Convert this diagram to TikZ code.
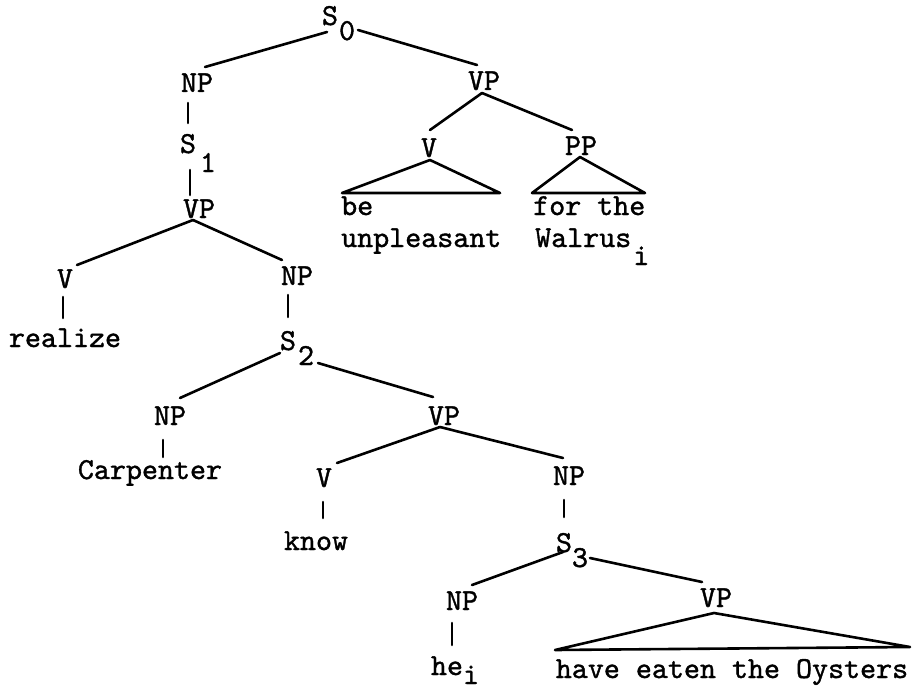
\documentclass[tikz,border=0pt]{standalone}
\usepackage{fontspec}
\newfontfamily\twfont[FakeBold=1.2]{lmmono10-regular.otf}
\newcommand{\lowr}[2]{\rlap{\smash{\raisebox{-#1}{#2}}}}
\begin{document}
\begin{tikzpicture}[x=1pt,y=-1pt,
  lbl/.style={inner sep=0pt, anchor=base, font=\fontsize{30.5pt}{36pt}\selectfont\twfont},
  lblw/.style={lbl, anchor=base west},
  lnk/.style={line width=2.6pt, line cap=round, line join=round}]
\useasboundingbox (0,0) rectangle (912,690);
% nodes
\node[lbl] (s0) at (330,25) {S\lowr{15pt}{\kern1pt 0}};
\node[lbl] (np1) at (197,92) {NP};
\node[lbl] (s1) at (188,153) {S\lowr{19pt}{\kern4pt 1}};
\node[lbl] (vp1) at (199,218) {VP};
\node[lbl] (v1) at (65,288) {V};
\node[lbl] (realize) at (65,347) {realize};
\node[lbl] (np2) at (297,285) {NP};
\node[lbl] (s2) at (288,350) {S\lowr{15pt}{\kern2pt 2}};
\node[lbl] (np3) at (170,425) {NP};
\node[lbl] (carp) at (150,479) {Carpenter};
\node[lbl] (vp2) at (444,425) {VP};
\node[lbl] (v2) at (324,487) {V};
\node[lbl] (know) at (316,550) {know};
\node[lbl] (np4) at (569,485) {NP};
\node[lbl] (s3) at (564,552) {S\lowr{15pt}{\kern0pt 3}};
\node[lbl] (np5) at (462,610) {NP};
\node[lbl] (he) at (447,675) {he\lowr{9pt}{i}};
\node[lbl] (vp3) at (716,607) {VP};
\node[lbl] (oys) at (732,678) {have eaten the Oysters};
\node[lbl] (vp0) at (484,90) {VP};
\node[lbl] (v0) at (429,157) {V};
\node[lbl] (pp) at (581,155) {PP};
\node[lblw] (be) at (341,215) {be};
\node[lblw] (unpl) at (341,247) {unpleasant};
\node[lblw] (forthe) at (533,215) {for the};
\node[lblw] (walrus) at (535,247) {Walrus\lowr{18pt}{\kern2pt i}};
% connectors
\draw[lnk] ([shift={(-3,7)}]s0.base) -- ([shift={(8,-25)}]np1.base);
\draw[lnk] ([shift={(28,5)}]s0.base) -- ([shift={(-7,-25)}]vp0.base);
\draw[lnk] ([shift={(-2,3)}]vp0.base) -- ([shift={(1,-27)}]v0.base);
\draw[lnk] ([shift={(-2,3)}]vp0.base) -- ([shift={(-9,-25)}]pp.base);
\draw[lnk] ([shift={(1,3)}]v0.base) -- ([shift={(-87,36)}]v0.base) -- ([shift={(71,36)}]v0.base) -- cycle;
\draw[lnk] ([shift={(-1,2)}]pp.base) -- ([shift={(-49,38)}]pp.base) -- ([shift={(64,38)}]pp.base) -- cycle;
\draw[lnk] ([shift={(-9,11)}]np1.base) -- ([shift={(0,-30)}]s1.base);
\draw[lnk] ([shift={(2,17)}]s1.base) -- ([shift={(-9,-23)}]vp1.base);
\draw[lnk] ([shift={(-6,2)}]vp1.base) -- ([shift={(12,-23)}]v1.base);
\draw[lnk] ([shift={(-6,2)}]vp1.base) -- ([shift={(-15,-25)}]np2.base);
\draw[lnk] ([shift={(-2,9)}]v1.base) -- ([shift={(-2,-29)}]realize.base);
\draw[lnk] ([shift={(-9,10)}]np2.base) -- ([shift={(0,-33)}]s2.base);
\draw[lnk] ([shift={(-8,3)}]s2.base) -- ([shift={(10,-27)}]np3.base);
\draw[lnk] ([shift={(30,13)}]s2.base) -- ([shift={(-11,-28)}]vp2.base);
\draw[lnk] ([shift={(-7,15)}]np3.base) -- ([shift={(13,-22)}]carp.base);
\draw[lnk] ([shift={(-4,2)}]vp2.base) -- ([shift={(13,-24)}]v2.base);
\draw[lnk] ([shift={(-4,2)}]vp2.base) -- ([shift={(-6,-27)}]np4.base);
\draw[lnk] ([shift={(-1,15)}]v2.base) -- ([shift={(7,-32)}]know.base);
\draw[lnk] ([shift={(-5,15)}]np4.base) -- ([shift={(0,-35)}]s3.base);
\draw[lnk] ([shift={(-1,0)}]s3.base) -- ([shift={(10,-25)}]np5.base);
\draw[lnk] ([shift={(26,6)}]s3.base) -- ([shift={(-14,-25)}]vp3.base);
\draw[lnk] ([shift={(-10,13)}]np5.base) -- ([shift={(5,-30)}]he.base);
\draw[lnk] ([shift={(-2,6)}]vp3.base) -- ([shift={(-161,43)}]vp3.base) -- ([shift={(194,40)}]vp3.base) -- cycle;
\end{tikzpicture}
\end{document}
